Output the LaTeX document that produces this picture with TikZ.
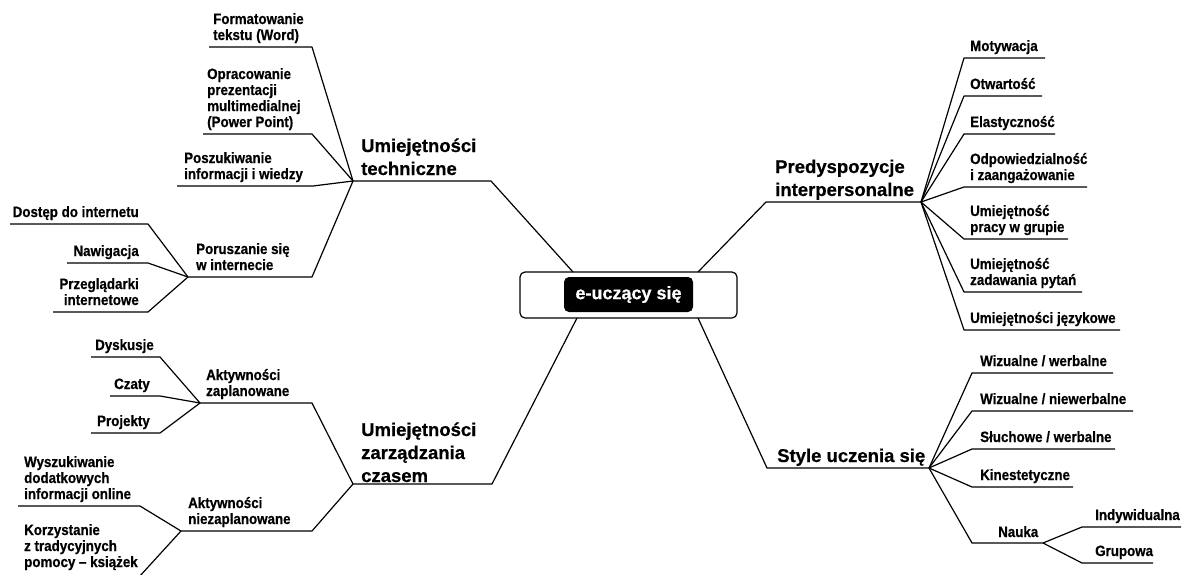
\documentclass[tikz,border=0pt]{standalone}
\usepackage{fontspec}
\setmainfont{Liberation Sans}
\newfontfamily\narrowbold{Liberation Sans Bold}[FakeStretch=0.89,FakeBold=0.6]
\newfontfamily\plainbold{Liberation Sans Bold}[FakeBold=0.6]
\usetikzlibrary{calc}
\newcommand{\lcol}[1]{\begin{tabular}[b]{@{}l@{}}#1\end{tabular}}
\newcommand{\rcol}[1]{\begin{tabular}[b]{@{}r@{}}#1\end{tabular}}
\begin{document}
\begin{tikzpicture}[x=1pt,y=-1pt,
  branch/.style={draw=black,line width=1.2pt,line join=round},
  leaftext/.style={font=\narrowbold\fontsize{15}{16}\selectfont,inner sep=0pt,anchor=base west},
  leaftextr/.style={leaftext,anchor=base east},
  toptext/.style={font=\plainbold\fontsize{18.5}{23}\selectfont,inner sep=0pt,anchor=base west},
  outerbox/.style={draw=black,line width=1.2pt,rounded corners=5pt,fill=white,minimum width=217pt,minimum height=46pt,inner sep=0pt},
  corebox/.style={fill=black,text=white,rounded corners=5pt,minimum width=129pt,minimum height=35pt,inner sep=0pt,font=\plainbold\fontsize{18}{22}\selectfont}]
\useasboundingbox (0,0) rectangle (1183,574);

% centre
\node[outerbox] (core) at (628.5,295) {};
\node[corebox] (corelabel) at (628.5,294.5) {e-uczący się};
\coordinate (ctl) at (573,272);
\coordinate (ctr) at (698,272);
\coordinate (cbl) at (577,318);
\coordinate (cbr) at (698,318);

% ---------- technical skills ----------
\coordinate (tech) at (353,181);
\coordinate (techend) at (491,181);
\draw[branch] (ctl) -- (techend) -- (tech);
\node[toptext] (techlbl) at (361,175) {\lcol{Umiejętności\\techniczne}};

\coordinate (t1) at (312,47);   \coordinate (t1e) at (209,47);
\coordinate (t2) at (312,134);  \coordinate (t2e) at (203,134);
\coordinate (t3) at (313,186);  \coordinate (t3e) at (177,186);
\coordinate (t4) at (312,277);  \coordinate (net) at (188,277);
\draw[branch] (tech) -- (t1) -- (t1e);
\draw[branch] (tech) -- (t2) -- (t2e);
\draw[branch] (tech) -- (t3) -- (t3e);
\draw[branch] (tech) -- (t4) -- (net);
\node[leaftext] (t1l) at (213,40) {\lcol{Formatowanie\\tekstu (Word)}};
\node[leaftext] (t2l) at (207,127) {\lcol{Opracowanie\\prezentacji\\multimedialnej\\(Power Point)}};
\node[leaftext] (t3l) at (184,179) {\lcol{Poszukiwanie\\informacji i wiedzy}};
\node[leaftext] (t4l) at (196,270) {\lcol{Poruszanie się\\w internecie}};

\coordinate (n1) at (148,224); \coordinate (n1e) at (10,224);
\coordinate (n2) at (148,263); \coordinate (n2e) at (67,263);
\coordinate (n3) at (148,312); \coordinate (n3e) at (53,312);
\draw[branch] (net) -- (n1) -- (n1e);
\draw[branch] (net) -- (n2) -- (n2e);
\draw[branch] (net) -- (n3) -- (n3e);
\node[leaftextr] (n1l) at (139,217) {\rcol{Dostęp do internetu}};
\node[leaftextr] (n2l) at (139,256) {\rcol{Nawigacja}};
\node[leaftextr] (n3l) at (139,305) {\rcol{Przeglądarki\\internetowe}};

% ---------- interpersonal ----------
\coordinate (pred) at (921,202);
\coordinate (predend) at (766,202);
\draw[branch] (ctr) -- (predend) -- (pred);
\node[toptext] (predlbl) at (775,196) {\lcol{Predyspozycje\\interpersonalne}};

\foreach \y/\xe/\name in {58/1045/p1,96/1042/p2,134/1055/p3,187/1087/p4,239/1068/p5,292/1082/p6,330/1120/p7}{
  \coordinate (\name) at (964,\y);
  \coordinate (\name e) at (\xe,\y);
  \draw[branch] (pred) -- (\name) -- (\name e);
}
\node[leaftext] (p1l) at (970,51) {\lcol{Motywacja}};
\node[leaftext] (p2l) at (970,89) {\lcol{Otwartość}};
\node[leaftext] (p3l) at (970,127) {\lcol{Elastyczność}};
\node[leaftext] (p4l) at (970,180) {\lcol{Odpowiedzialność\\i zaangażowanie}};
\node[leaftext] (p5l) at (970,232) {\lcol{Umiejętność\\pracy w grupie}};
\node[leaftext] (p6l) at (970,285) {\lcol{Umiejętność\\zadawania pytań}};
\node[leaftext] (p7l) at (970,323) {\lcol{Umiejętności językowe}};

% ---------- time management ----------
\coordinate (time) at (353,484);
\coordinate (timeend) at (492,484);
\draw[branch] (cbl) -- (timeend) -- (time);
\node[toptext] (timelbl) at (361,482) {\lcol{Umiejętności\\zarządzania\\czasem}};

\coordinate (a1) at (312,403); \coordinate (plan) at (200,403);
\coordinate (a2) at (312,531); \coordinate (unplan) at (181,531);
\draw[branch] (time) -- (a1) -- (plan);
\draw[branch] (time) -- (a2) -- (unplan);
\node[leaftext] (a1l) at (206,396) {\lcol{Aktywności\\zaplanowane}};
\node[leaftext] (a2l) at (188,524) {\lcol{Aktywności\\niezaplanowane}};

\coordinate (d1) at (160,357); \coordinate (d1e) at (91,357);
\coordinate (d2) at (160,396); \coordinate (d2e) at (110,396);
\coordinate (d3) at (160,433); \coordinate (d3e) at (91,433);
\draw[branch] (plan) -- (d1) -- (d1e);
\draw[branch] (plan) -- (d2) -- (d2e);
\draw[branch] (plan) -- (d3) -- (d3e);
\node[leaftextr] (d1l) at (154,350) {\rcol{Dyskusje}};
\node[leaftextr] (d2l) at (150,389) {\rcol{Czaty}};
\node[leaftextr] (d3l) at (150,426) {\rcol{Projekty}};

\coordinate (u1) at (140,506); \coordinate (u1e) at (18,506);
\coordinate (u2) at (139,577); \coordinate (u2e) at (18,577);
\draw[branch] (unplan) -- (u1) -- (u1e);
\draw[branch] (unplan) -- (u2) -- (u2e);
\node[leaftext] (u1l) at (24,499) {\lcol{Wyszukiwanie\\dodatkowych\\informacji online}};
\node[leaftext] (u2l) at (24,567) {\lcol{Korzystanie\\z tradycyjnych\\pomocy – książek}};

% ---------- learning styles ----------
\coordinate (style) at (929,468);
\coordinate (styleend) at (767,468);
\draw[branch] (cbr) -- (styleend) -- (style);
\node[toptext] (stylelbl) at (777,462) {\lcol{Style uczenia się}};

\foreach \y/\xe/\name in {373/1113/s1,411/1133/s2,449/1115/s3,487/1073/s4,543/1043/learn}{
  \coordinate (\name) at (972,\y);
  \coordinate (\name e) at (\xe,\y);
  \draw[branch] (style) -- (\name) -- (\name e);
}
\node[leaftext] (s1l) at (980,366) {\lcol{Wizualne / werbalne}};
\node[leaftext] (s2l) at (980,404) {\lcol{Wizualne / niewerbalne}};
\node[leaftext] (s3l) at (980,442) {\lcol{Słuchowe / werbalne}};
\node[leaftext] (s4l) at (980,480) {\lcol{Kinestetyczne}};
\node[leaftext] (learnl) at (998,537) {\lcol{Nauka}};

\coordinate (g1) at (1082,527); \coordinate (g1e) at (1181,527);
\coordinate (g2) at (1082,563); \coordinate (g2e) at (1153,563);
\draw[branch] (learne) -- (g1) -- (g1e);
\draw[branch] (learne) -- (g2) -- (g2e);
\node[leaftext] (g1l) at (1095,520) {\lcol{Indywidualna}};
\node[leaftext] (g2l) at (1095,556) {\lcol{Grupowa}};
\end{tikzpicture}
\end{document}
